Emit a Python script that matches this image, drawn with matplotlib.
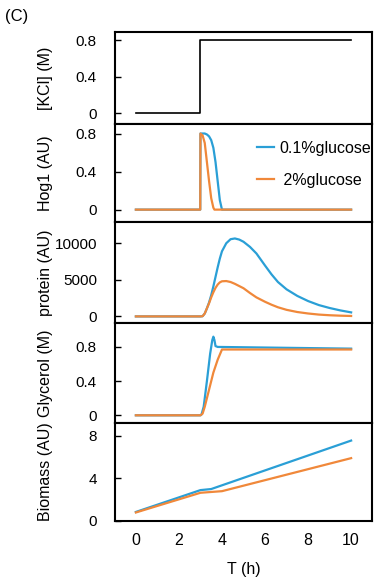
import matplotlib
matplotlib.use("Agg")
import matplotlib.pyplot as plt

plt.rcParams['font.family'] = ['Liberation Sans', 'DejaVu Sans']
plt.rcParams['font.size'] = 11.5

BLUE = '#2a9fd6'
ORANGE = '#f0883a'

# KCl input
kcl_t = [0, 3.0, 3.0, 10]
kcl_v = [0, 0, 0.8, 0.8]

# Hog1
hog_t_blue = [0, 2.99, 3.0, 3.2, 3.3, 3.4, 3.5, 3.6, 3.7, 3.8, 3.9, 4.0, 10]
hog_v_blue = [0, 0, 0.8, 0.8, 0.79, 0.77, 0.73, 0.65, 0.5, 0.3, 0.1, 0.0, 0]
hog_t_orange = [0, 2.99, 3.0, 3.1, 3.2, 3.3, 3.4, 3.5, 3.6, 3.65, 10]
hog_v_orange = [0, 0, 0.8, 0.78, 0.7, 0.5, 0.3, 0.12, 0.02, 0, 0]

# protein
prot_t = [0, 3.0, 3.1, 3.2, 3.3, 3.4, 3.5, 3.6, 3.7, 3.8, 3.9, 4.0, 4.2, 4.4,
          4.6, 4.8, 5.0, 5.3, 5.6, 6.0, 6.3, 6.6, 7.0, 7.5, 8.0, 8.5, 9.0, 9.5, 10]
prot_blue = [0, 0, 30, 400, 1100, 1900, 2900, 4100, 5400, 6700, 7900, 8900,
             10000, 10550, 10650, 10500, 10200, 9500, 8600, 6950, 5750, 4700,
             3700, 2800, 2100, 1550, 1150, 820, 550]
prot_orange = [0, 0, 30, 400, 1100, 1800, 2600, 3300, 3900, 4350, 4650, 4800,
               4830, 4700, 4450, 4150, 3850, 3200, 2600, 2000, 1600, 1250, 900,
               600, 400, 250, 160, 100, 60]

# glycerol
gly_t_blue = [0, 3.0, 3.05, 3.15, 3.3, 3.45, 3.55, 3.6, 3.65, 3.7, 3.8, 10]
gly_v_blue = [0, 0, 0.01, 0.1, 0.4, 0.72, 0.88, 0.92, 0.88, 0.81, 0.8, 0.78]
gly_t_orange = [0, 3.0, 3.1, 3.2, 3.4, 3.6, 3.8, 4.0, 10]
gly_v_orange = [0, 0, 0.02, 0.1, 0.3, 0.5, 0.65, 0.77, 0.77]

# biomass
bio_t_blue = [0, 3.0, 3.5, 10]
bio_v_blue = [0.85, 2.9, 3.0, 7.55]
bio_t_orange = [0, 3.0, 4.0, 10]
bio_v_orange = [0.8, 2.65, 2.8, 5.9]

W, H = 374, 580
fig = plt.figure(figsize=(W / 100, H / 100), dpi=100)

bounds = [32, 124, 222, 323, 423, 521]
left = 115 / W
width = (372 - 115) / W
axes = []
for i in range(5):
    top = 1 - bounds[i] / H
    bot = 1 - bounds[i + 1] / H
    ax = fig.add_axes([left, bot, width, top - bot])
    axes.append(ax)

lw = 1.6
axes[0].plot(kcl_t, kcl_v, color='black', lw=1.2)
axes[0].set_ylim(-0.12, 0.89)
axes[0].set_yticks([0, 0.4, 0.8])
axes[0].set_yticklabels(['0', '0.4', '0.8'])
axes[0].set_ylabel('[KCl] (M)')

axes[1].plot(hog_t_blue, hog_v_blue, color=BLUE, lw=lw, label='0.1%glucose')
axes[1].plot(hog_t_orange, hog_v_orange, color=ORANGE, lw=lw, label=' 2%glucose')
axes[1].set_ylim(-0.13, 0.9)
axes[1].set_yticks([0, 0.4, 0.8])
axes[1].set_yticklabels(['0', '0.4', '0.8'])
axes[1].set_ylabel('Hog1 (AU)')
axes[1].legend(loc='upper left', frameon=False, handlelength=1.05,
               handletextpad=0.35, labelspacing=1.05, borderpad=0,
               borderaxespad=0, bbox_to_anchor=(257 / W, 1 - 141 / H),
               bbox_transform=fig.transFigure)

axes[2].plot(prot_t, prot_blue, color=BLUE, lw=lw)
axes[2].plot(prot_t, prot_orange, color=ORANGE, lw=lw)
axes[2].set_ylim(-900, 12900)
axes[2].set_yticks([0, 5000, 10000])
axes[2].set_ylabel('protein (AU)')

axes[3].plot(gly_t_blue, gly_v_blue, color=BLUE, lw=lw)
axes[3].plot(gly_t_orange, gly_v_orange, color=ORANGE, lw=lw)
axes[3].set_ylim(-0.09, 1.08)
axes[3].set_yticks([0, 0.4, 0.8])
axes[3].set_yticklabels(['0', '0.4', '0.8'])
axes[3].set_ylabel('Glycerol (M)')

axes[4].plot(bio_t_blue, bio_v_blue, color=BLUE, lw=lw)
axes[4].plot(bio_t_orange, bio_v_orange, color=ORANGE, lw=lw)
axes[4].set_ylim(0, 9.2)
axes[4].set_yticks([0, 4, 8])
axes[4].set_ylabel('Biomass (AU)')
axes[4].set_xlabel('T (h)', labelpad=10)

for i, ax in enumerate(axes):
    ax.set_xlim(-0.97, 10.97)
    for s in ax.spines.values():
        s.set_linewidth(1.5)
    ax.tick_params(axis='y', direction='in', length=4, width=1, pad=13,
                   labelsize=11)
    if i < 4:
        ax.set_xticks([])
    else:
        ax.set_xticks([0, 2, 4, 6, 8, 10])
        ax.tick_params(axis='x', length=0, pad=8.5)
    ax.yaxis.set_label_coords(-0.24, 0.5)

fig.text(5 / W, 1 - 16 / H, '(C)', fontsize=12, va='center', ha='left')

fig.savefig('out.png', dpi=100)
